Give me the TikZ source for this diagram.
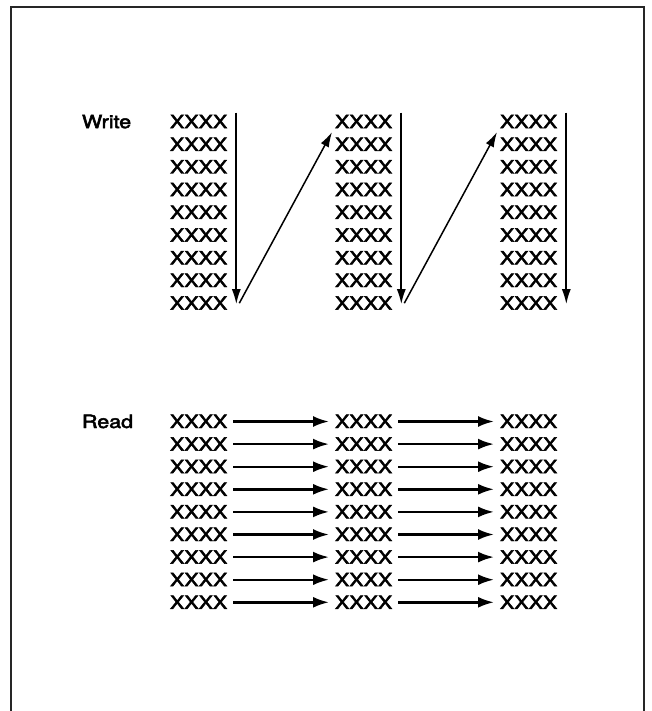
\documentclass[tikz,border=0pt]{standalone}
\usepackage{fontspec}
\setmainfont{TeX Gyre Heros}[FakeBold=2.6]
\usetikzlibrary{arrows.meta}
\newcommand{\widetext}[1]{\scalebox{1.18}[1]{#1}}
\tikzset{
  xx/.style={inner sep=0pt, outer sep=0pt, anchor=west, text height=13pt, text depth=0pt,
    font=\fontsize{18.2}{18.2}\selectfont},
  lbl/.style={xx},
  frameline/.style={line width=2pt, draw=black!85},
  warrow/.style={line width=1.7pt, -{Latex[length=15pt,width=9pt]}},
  darrow/.style={line width=1.5pt, -{Latex[length=15pt,width=9pt]}},
  rarrow/.style={line width=2.4pt, -{Latex[length=16pt,width=11pt]}, shorten <=6pt, shorten >=6pt}
}
\begin{document}
\begin{tikzpicture}[x=1pt,y=-1pt]
\useasboundingbox (0,0) rectangle (651,711);
\fill[white] (0,0) rectangle (651,711);
% frame
\draw[frameline] (11,711) -- (11,7) -- (644,7) -- (644,711);
% labels
\node[lbl] (write) at (82,121.6) {\widetext{Write}};
\node[lbl] (read) at (82,421.5) {\widetext{Read}};
% write and read columns
\foreach \c/\x in {1/170,2/335,3/500}{
  \foreach \r in {1,...,9}{
    \node[xx] (w\c-\r) at (\x,{121.6+22.7*(\r-1)}) {\widetext{XXXX}};
    \node[xx] (r\c-\r) at (\x,{421.5+22.6*(\r-1)}) {\widetext{XXXX}};
  }
}
% write arrows
\foreach \c in {1,2,3}{
  \draw[warrow] ([xshift=9pt,yshift=2.5pt]w\c-1.north east) -- ([xshift=9pt,yshift=-1pt]w\c-9.east);
}
\draw[darrow] ([xshift=12pt,yshift=0pt]w1-9.east) -- ([xshift=-3pt,yshift=-4pt]w2-1.south west);
\draw[darrow] ([xshift=12pt,yshift=0pt]w2-9.east) -- ([xshift=-3pt,yshift=-4pt]w3-1.south west);
% read arrows
\foreach \r in {1,...,9}{
  \draw[rarrow] (r1-\r) -- (r2-\r);
  \draw[rarrow] (r2-\r) -- (r3-\r);
}
\end{tikzpicture}
\end{document}
